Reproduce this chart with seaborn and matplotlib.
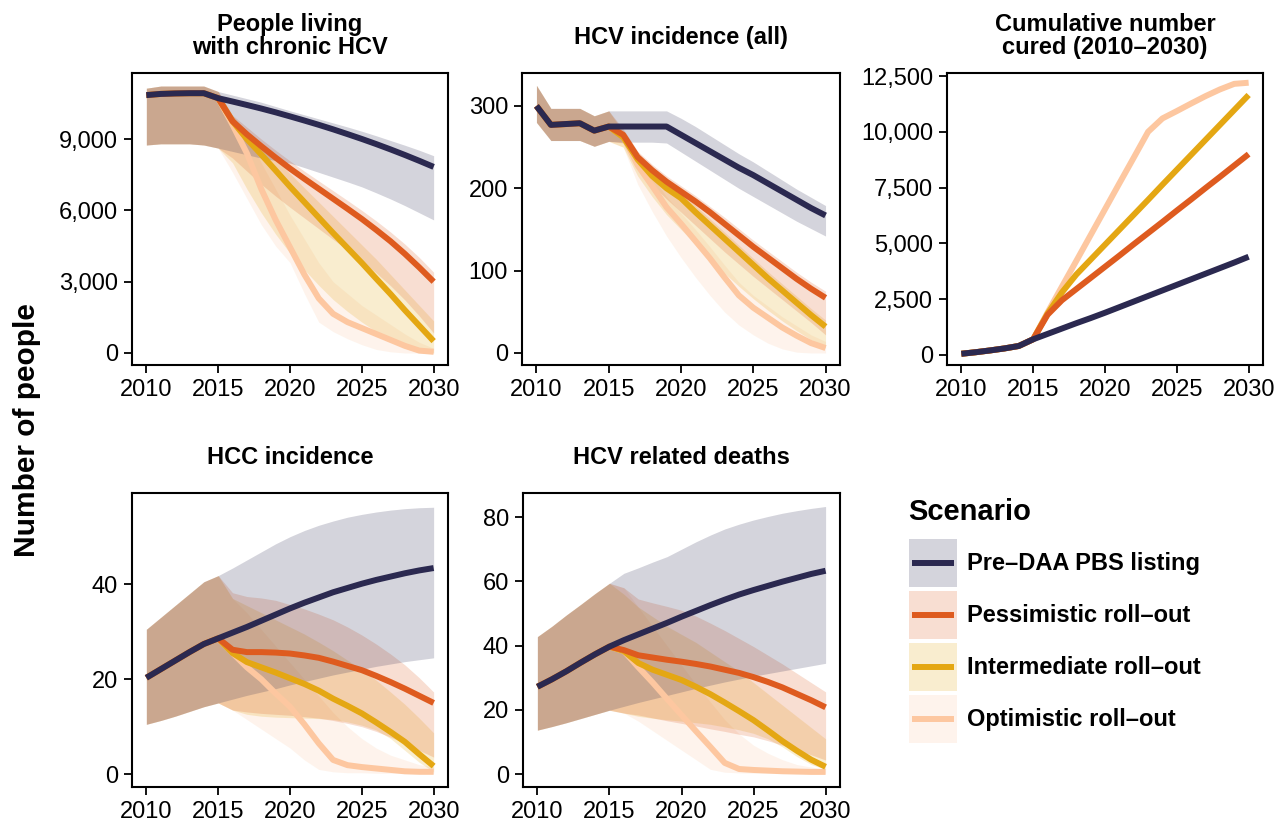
import numpy as np
import pandas as pd
import matplotlib
matplotlib.use('Agg')
import matplotlib.pyplot as plt
from matplotlib.patches import Rectangle
from matplotlib.lines import Line2D
from matplotlib.legend_handler import HandlerBase
from matplotlib.ticker import FuncFormatter
import seaborn as sns

# ---------------------------------------------------------------------------
# data
# ---------------------------------------------------------------------------
years_base = [2010, 2011, 2012, 2013, 2014, 2015]
years_proj = [2016, 2017, 2018, 2019, 2020, 2021, 2022, 2023, 2024, 2025,
              2026, 2027, 2028, 2029, 2030]

scenarios = ['Pre–DAA PBS listing', 'Pessimistic roll–out',
             'Intermediate roll–out', 'Optimistic roll–out']
colores = ['#2b2950', '#de5b1f', '#e4a713', '#fdc7a0']

# People living with chronic HCV
chronic_base = [10850, 10900, 10920, 10930, 10930, 10720]
chronic_base_lo = [8750, 8800, 8800, 8800, 8750, 8620]
chronic_base_hi = [11140, 11230, 11230, 11230, 11230, 11000]
chronic_pre = [10580, 10435, 10285, 10125, 9955, 9780, 9600, 9410, 9210, 9005, 8790, 8565, 8330, 8085, 7830]
chronic_pre_lo = [8480, 8340, 8200, 8100, 7990, 7800, 7600, 7400, 7200, 6990, 6740, 6480, 6200, 5900, 5600]
chronic_pre_hi = [10850, 10700, 10550, 10370, 10190, 10020, 9850, 9680, 9510, 9330, 9140, 8940, 8740, 8530, 8300]
chronic_pess = [9750, 9200, 8700, 8220, 7760, 7330, 6910, 6490, 6070, 5640, 5180, 4700, 4170, 3600, 3000]
chronic_pess_lo = [8200, 7650, 7100, 6600, 6130, 5680, 5230, 4780, 4330, 3870, 3370, 2830, 2230, 1560, 840]
chronic_pess_hi = [10000, 9500, 9000, 8530, 8080, 7650, 7240, 6830, 6420, 6000, 5560, 5090, 4580, 4020, 3400]
chronic_int = [9750, 9000, 8350, 7680, 7000, 6350, 5700, 5050, 4420, 3790, 3130, 2480, 1800, 1150, 500]
chronic_int_lo = [8000, 6900, 5900, 5000, 4200, 3500, 2850, 2250, 1750, 1300, 900, 550, 250, 80, 0]
chronic_int_hi = [9950, 9350, 8750, 8150, 7550, 6950, 6350, 5750, 5150, 4550, 3950, 3300, 2650, 2000, 1350]
chronic_opt = [9600, 8400, 6900, 5600, 4450, 3300, 2300, 1650, 1300, 1050, 800, 550, 300, 100, 50]
chronic_opt_lo = [7600, 6500, 5400, 4500, 3800, 2500, 1300, 900, 600, 350, 150, 50, 0, 0, 0]
chronic_opt_hi = [10000, 9200, 8000, 6900, 5800, 4800, 3800, 3000, 2500, 2000, 1600, 1200, 800, 450, 200]

# HCV incidence (all)
inc_base = [300, 277, 278, 279, 270, 275]
inc_base_lo = [280, 258, 258, 258, 251, 257]
inc_base_hi = [325, 297, 297, 297, 288, 294]
inc_pre = [275, 275, 275, 275, 265, 255, 245, 235, 225, 216, 206, 196, 186, 176, 167]
inc_pre_lo = [256, 256, 256, 255, 244, 233, 222, 211, 200, 190, 180, 170, 160, 151, 142]
inc_pre_hi = [294, 294, 294, 294, 285, 275, 264, 253, 242, 232, 221, 210, 199, 189, 179]
inc_pess = [265, 238, 222, 208, 196, 184, 171, 157, 143, 129, 116, 103, 90, 78, 67]
inc_pess_lo = [255, 224, 204, 187, 171, 155, 139, 123, 108, 93, 79, 65, 51, 37, 22]
inc_pess_hi = [272, 245, 229, 215, 203, 191, 178, 165, 151, 137, 124, 111, 98, 86, 75]
inc_int = [262, 235, 215, 200, 188, 171, 155, 139, 123, 107, 91, 76, 61, 46, 32]
inc_int_lo = [250, 215, 190, 168, 150, 132, 114, 97, 81, 66, 52, 39, 27, 16, 6]
inc_int_hi = [268, 242, 222, 207, 195, 179, 163, 147, 131, 115, 99, 84, 69, 54, 40]
inc_opt = [263, 228, 203, 177, 157, 136, 115, 92, 70, 55, 43, 31, 21, 12, 6]
inc_opt_lo = [250, 205, 172, 142, 116, 92, 70, 50, 34, 22, 12, 5, 1, 0, 0]
inc_opt_hi = [270, 238, 214, 190, 170, 150, 129, 107, 86, 70, 57, 44, 33, 22, 14]

# Cumulative number cured (no uncertainty band)
cured_base = [50, 120, 200, 290, 400, 700]
cured_pre = [940, 1180, 1420, 1650, 1890, 2140, 2390, 2640, 2890, 3140, 3390, 3640, 3890, 4140, 4400]
cured_pess = [1800, 2450, 2950, 3450, 3950, 4450, 4960, 5460, 5960, 6470, 6970, 7480, 7980, 8490, 9000]
cured_int = [1850, 2800, 3600, 4270, 4940, 5610, 6280, 6950, 7630, 8300, 8970, 9640, 10310, 10980, 11650]
cured_opt = [1900, 3060, 4210, 5370, 6530, 7690, 8840, 10000, 10600, 10930, 11270, 11600, 11900, 12150, 12200]

# HCC incidence
hcc_base = [20.3, 22.1, 23.9, 25.7, 27.4, 28.6]
hcc_base_lo = [10.5, 11.3, 12.2, 13.2, 14.2, 15.0]
hcc_base_hi = [30.5, 33.0, 35.5, 38.0, 40.5, 41.8]
hcc_pre = [29.8, 31.0, 32.3, 33.6, 34.9, 36.1, 37.2, 38.3, 39.2, 40.1, 40.9, 41.6, 42.3, 42.9, 43.4]
hcc_pre_lo = [15.8, 16.6, 17.3, 18.0, 18.8, 19.5, 20.2, 20.9, 21.5, 22.1, 22.7, 23.2, 23.7, 24.1, 24.5]
hcc_pre_hi = [43.4, 45.1, 46.8, 48.5, 50.0, 51.3, 52.4, 53.3, 54.1, 54.7, 55.2, 55.6, 55.9, 56.1, 56.2]
hcc_pess = [26.2, 25.7, 25.7, 25.6, 25.4, 25.0, 24.5, 23.7, 22.8, 21.9, 20.7, 19.4, 18.0, 16.5, 15.0]
hcc_pess_lo = [13.5, 13.1, 12.8, 12.6, 12.4, 12.1, 11.8, 11.3, 10.7, 10.0, 9.0, 7.8, 6.5, 5.0, 3.6]
hcc_pess_hi = [38.2, 37.4, 37.1, 36.6, 35.7, 34.8, 33.7, 32.5, 31.0, 29.3, 27.4, 25.3, 23.0, 20.3, 17.3]
hcc_int = [25.5, 23.6, 22.5, 21.4, 20.2, 19.0, 17.6, 15.9, 14.4, 12.8, 10.9, 8.9, 6.8, 4.2, 1.7]
hcc_int_lo = [13.5, 12.6, 12.2, 12.0, 11.9, 11.8, 11.7, 11.5, 11.0, 10.3, 9.3, 7.5, 5.0, 2.5, 0.5]
hcc_int_hi = [37.0, 35.5, 34.0, 32.5, 31.0, 29.5, 27.8, 26.0, 24.0, 22.0, 19.8, 17.3, 14.7, 11.8, 8.7]
hcc_opt = [25.5, 22.5, 20.0, 17.0, 14.2, 10.5, 6.5, 3.0, 1.9, 1.5, 1.2, 0.9, 0.6, 0.5, 0.5]
hcc_opt_lo = [13.5, 11.5, 9.5, 7.5, 5.5, 3.0, 1.0, 0.5, 0.3, 0.3, 0.2, 0.2, 0.2, 0.2, 0.2]
hcc_opt_hi = [37.0, 34.0, 30.5, 27.0, 23.5, 20.0, 16.5, 13.0, 10.0, 7.5, 5.5, 4.0, 3.0, 2.0, 1.5]

# HCV related deaths
death_base = [27.2, 29.5, 32.0, 34.7, 37.3, 39.7]
death_base_lo = [13.7, 14.8, 16.0, 17.3, 18.6, 19.9]
death_base_hi = [42.8, 46.0, 49.5, 52.8, 56.2, 59.4]
death_pre = [41.7, 43.5, 45.3, 47.1, 49.0, 50.8, 52.6, 54.3, 55.9, 57.3, 58.6, 59.9, 61.1, 62.3, 63.3]
death_pre_lo = [21.1, 22.3, 23.4, 24.5, 25.6, 26.7, 27.7, 28.7, 29.6, 30.5, 31.3, 32.1, 32.9, 33.7, 34.5]
death_pre_hi = [62.5, 64.2, 66.0, 67.7, 70.0, 72.3, 74.4, 76.3, 77.8, 79.1, 80.2, 81.2, 82.0, 82.7, 83.3]
death_pess = [38.6, 37.0, 36.3, 35.6, 35.0, 34.3, 33.5, 32.5, 31.5, 30.2, 28.7, 27.0, 25.0, 23.0, 20.8]
death_pess_lo = [19.0, 18.4, 17.5, 16.6, 15.8, 15.0, 14.1, 13.3, 12.4, 11.6, 10.4, 9.0, 7.6, 6.0, 4.4]
death_pess_hi = [58.0, 54.5, 53.3, 52.2, 51.0, 49.2, 47.0, 44.7, 42.2, 39.7, 37.0, 34.3, 31.4, 28.5, 25.6]
death_int = [38.3, 34.6, 32.5, 30.9, 29.3, 27.2, 24.9, 22.3, 19.6, 16.8, 13.6, 10.3, 7.3, 4.5, 2.3]
death_int_lo = [19.0, 18.0, 17.4, 16.9, 16.5, 16.0, 15.5, 14.7, 13.8, 12.7, 11.0, 8.5, 5.5, 3.0, 1.5]
death_int_hi = [56.0, 52.0, 49.0, 46.0, 43.5, 41.0, 38.0, 35.0, 32.0, 28.5, 25.0, 21.5, 18.0, 14.5, 11.0]
death_opt = [38.3, 33.3, 28.5, 23.4, 18.4, 13.4, 8.5, 3.5, 1.6, 1.3, 1.1, 0.9, 0.8, 0.7, 0.7]
death_opt_lo = [19.0, 16.5, 13.5, 10.5, 7.5, 4.5, 1.5, 0.6, 0.4, 0.3, 0.3, 0.3, 0.3, 0.3, 0.3]
death_opt_hi = [58.0, 52.0, 46.0, 40.0, 34.0, 28.0, 22.5, 17.0, 12.5, 9.0, 6.5, 4.5, 3.0, 2.2, 1.5]

# ---------------------------------------------------------------------------
# tabla larga
# ---------------------------------------------------------------------------
paneles = [
    ('People living\nwith chronic HCV', chronic_base, chronic_base_lo, chronic_base_hi,
     [chronic_pre, chronic_pess, chronic_int, chronic_opt],
     [chronic_pre_lo, chronic_pess_lo, chronic_int_lo, chronic_opt_lo],
     [chronic_pre_hi, chronic_pess_hi, chronic_int_hi, chronic_opt_hi]),
    ('HCV incidence (all)', inc_base, inc_base_lo, inc_base_hi,
     [inc_pre, inc_pess, inc_int, inc_opt],
     [inc_pre_lo, inc_pess_lo, inc_int_lo, inc_opt_lo],
     [inc_pre_hi, inc_pess_hi, inc_int_hi, inc_opt_hi]),
    ('Cumulative number\ncured (2010–2030)', cured_base, None, None,
     [cured_pre, cured_pess, cured_int, cured_opt], None, None),
    ('HCC incidence', hcc_base, hcc_base_lo, hcc_base_hi,
     [hcc_pre, hcc_pess, hcc_int, hcc_opt],
     [hcc_pre_lo, hcc_pess_lo, hcc_int_lo, hcc_opt_lo],
     [hcc_pre_hi, hcc_pess_hi, hcc_int_hi, hcc_opt_hi]),
    ('HCV related deaths', death_base, death_base_lo, death_base_hi,
     [death_pre, death_pess, death_int, death_opt],
     [death_pre_lo, death_pess_lo, death_int_lo, death_opt_lo],
     [death_pre_hi, death_pess_hi, death_int_hi, death_opt_hi]),
]

years = years_base + years_proj
filas = []
for titulo, base, base_lo, base_hi, lineas, bajos, altos in paneles:
    for i, sc in enumerate(scenarios):
        vals = base + lineas[i]
        lo = base_lo + bajos[i] if bajos else [np.nan] * len(years)
        hi = base_hi + altos[i] if altos else [np.nan] * len(years)
        for yr, v, l, h in zip(years, vals, lo, hi):
            filas.append({'panel': titulo, 'scenario': sc, 'year': yr,
                          'value': v, 'lo': l, 'hi': h})
df = pd.DataFrame(filas)

paleta = dict(zip(scenarios, colores))
orden_lineas = scenarios[::-1]      # navy on top
orden_bandas = scenarios[::-1]      # pre-DAA ribbon drawn last

# ---------------------------------------------------------------------------
# figura
# ---------------------------------------------------------------------------
sns.set_theme(style='ticks')
plt.rcParams['font.family'] = ['Liberation Sans', 'DejaVu Sans']
plt.rcParams['text.color'] = 'black'
plt.rcParams['axes.labelcolor'] = 'black'
plt.rcParams['axes.titlecolor'] = 'black'

W, H = 1286, 823
fig = plt.figure(figsize=(W / 100, H / 100), dpi=100)

def px_axes(x0, y0, x1, y1):
    return fig.add_axes([x0 / W, 1 - y1 / H, (x1 - x0) / W, (y1 - y0) / H])

cajas = [(132, 73, 448, 365), (522, 73, 840, 365), (947, 73, 1263, 365),
         (132, 493, 448, 787), (523, 493, 840, 787)]
ylims = [(-505, 11780), (-14.6, 340), (-453, 12636), (-2.7, 59.2), (-4, 87.5)]
yticks = [[0, 3000, 6000, 9000], [0, 100, 200, 300],
          [0, 2500, 5000, 7500, 10000, 12500], [0, 20, 40], [0, 20, 40, 60, 80]]
pads = [14, 21, 14, 21, 21]

for caja, (titulo, *_), ylim, yt, pad in zip(cajas, paneles, ylims, yticks, pads):
    ax = px_axes(*caja)
    sub = df[df['panel'] == titulo]

    sns.lineplot(data=sub, x='year', y='value', hue='scenario', hue_order=orden_lineas,
                 palette=paleta, linewidth=4.3, legend=False, ax=ax,
                 solid_capstyle='butt')

    # ribbons go over the lines, as in the original
    for sc in orden_bandas:
        s = sub[sub['scenario'] == sc]
        if s['lo'].notna().all():
            ax.fill_between(s['year'], s['lo'], s['hi'], color=paleta[sc],
                            alpha=0.2, linewidth=0)

    ax.set_xlim(2009, 2031)
    ax.set_ylim(*ylim)
    ax.set_xticks([2010, 2015, 2020, 2025, 2030])
    ax.set_yticks(yt)
    ax.yaxis.set_major_formatter(FuncFormatter(lambda v, p: f'{v:,.0f}'))
    ax.set_xlabel('')
    ax.set_ylabel('')
    ax.tick_params(axis='both', length=6, width=1.3, labelsize=17, pad=4,
                   colors='black')
    for sp in ax.spines.values():
        sp.set_visible(True)
        sp.set_color('black')
        sp.set_linewidth(1.5)
    ax.set_title(titulo, fontsize=17, fontweight='bold', pad=pad, linespacing=1.0,
                 color='black')

fig.text(27 / W, 1 - 430 / H, 'Number of people', rotation=90, ha='center',
         va='center', fontsize=21.5, fontweight='bold', color='black')


# leyenda: caja de banda con la linea centrada
class ClaveEscenario(HandlerBase):
    def create_artists(self, legend, orig_handle, xdescent, ydescent, width,
                       height, fontsize, trans):
        c = orig_handle.get_color()
        caja = Rectangle((-xdescent, -ydescent), width, height, facecolor=c,
                         alpha=0.2, edgecolor='none', transform=trans)
        yc = -ydescent + height / 2
        linea = Line2D([-xdescent + 0.07 * width, -xdescent + 0.93 * width], [yc, yc],
                       color=c, lw=4.3, solid_capstyle='butt', transform=trans)
        return [caja, linea]


fig.text(908 / W, 1 - 512 / H, 'Scenario', ha='left', va='center', fontsize=21,
         fontweight='bold', color='black')
handles = [Line2D([], [], color=c) for c in colores]
fig.legend(handles, scenarios, loc='upper left',
           bbox_to_anchor=(909 / W, 1 - 539 / H), frameon=False,
           handler_map={Line2D: ClaveEscenario()},
           prop={'weight': 'bold', 'size': 17}, labelcolor='black',
           handlelength=2.03, handleheight=2.75, handletextpad=0.42,
           labelspacing=0.17, borderpad=0, borderaxespad=0)

fig.savefig('out.png', dpi=100)
